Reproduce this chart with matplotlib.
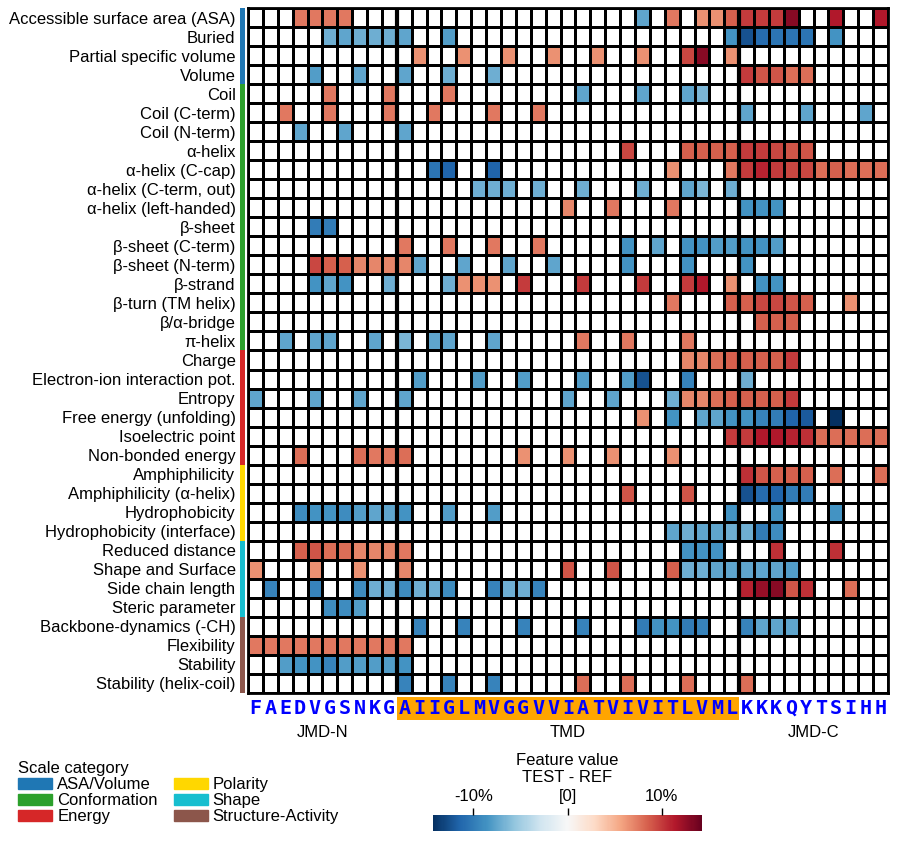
import numpy as np
import matplotlib
matplotlib.use("Agg")
import matplotlib.pyplot as plt
from matplotlib.patches import Patch, Rectangle
from matplotlib.transforms import blended_transform_factory
from matplotlib.cm import ScalarMappable
from matplotlib.colors import Normalize

plt.rcParams['font.family'] = ['Liberation Sans', 'DejaVu Sans']

scales = ["Accessible surface area (ASA)", "Buried", "Partial specific volume", "Volume",
          "Coil", "Coil (C-term)", "Coil (N-term)", "α-helix", "α-helix (C-cap)",
          "α-helix (C-term, out)", "α-helix (left-handed)", "β-sheet", "β-sheet (C-term)",
          "β-sheet (N-term)", "β-strand", "β-turn (TM helix)", "β/α-bridge", "π-helix",
          "Charge", "Electron-ion interaction pot.", "Entropy", "Free energy (unfolding)",
          "Isoelectric point", "Non-bonded energy",
          "Amphiphilicity", "Amphiphilicity (α-helix)", "Hydrophobicity", "Hydrophobicity (interface)",
          "Reduced distance", "Shape and Surface", "Side chain length", "Steric parameter",
          "Backbone-dynamics (-CH)", "Flexibility", "Stability", "Stability (helix-coil)"]

categories = ["ASA/Volume", "Conformation", "Energy", "Polarity", "Shape", "Structure-Activity"]
cat_colors = ["#1f77b4", "#2ca02c", "#d62728", "#ffd700", "#17becf", "#8c564b"]
cat_sizes = [4, 14, 6, 4, 4, 4]

jmd_n = "FAEDVGSNKG"
tmd = "AIIGLMVGGVVIATVIVITLVML"
jmd_c = "KKKQYTSIHH"

# (position, value in %) per scale, zero elsewhere
feat_values = [
    [(3, 7.5), (4, 7.5), (5, 7.5), (6, 7.5), (26, -7.5), (28, 7.5), (30, 6.5), (31, 6.5), (32, 8.5),
     (33, 10), (34, 10), (35, 10), (36, 13), (39, 11.5), (42, 11.5)],
    [(5, -7), (6, -7.5), (7, -7), (8, -7), (9, -7), (10, -7.5), (13, -8), (32, -8.5), (33, -12.5),
     (34, -11), (35, -10.5), (36, -10.5), (37, -10.5), (39, -8.5)],
    [(11, 6.5), (14, 6.5), (17, 6.5), (20, 6.5), (23, 6.5), (26, 6.5), (29, 9.5), (30, 13), (32, 6.5)],
    [(4, -8), (7, -7.5), (10, -7.5), (13, -7), (16, -7), (33, 10), (34, 9), (35, 9), (36, 8), (37, 8)],
    [(5, 7.5), (9, 7.5), (13, 7.5), (22, -7.5), (26, -7.5), (29, -7.5), (30, -6.5)],
    [(2, 7.5), (5, 7.5), (9, 7.5), (12, 7.5), (16, 7.5), (19, 7.5), (33, -7.5), (37, -7.5), (41, -7.5)],
    [(3, -7.5), (6, -7.5), (10, -7.5)],
    [(25, 9.5), (29, 8.5), (30, 8.5), (31, 8.5), (32, 8.5), (33, 10), (34, 10), (35, 9.5), (36, 9), (37, 9)],
    [(12, -10.5), (13, -11.5), (16, -11.5), (28, 6.5), (32, 7.5), (33, 10), (34, 11), (35, 10),
     (36, 9.5), (37, 9.5), (38, 8), (39, 8.5), (40, 8), (41, 8), (42, 8)],
    [(15, -7), (16, -7), (17, -7), (19, -7), (22, -7), (26, -7), (29, -7.5), (30, -6.5), (32, -7)],
    [(21, 7), (24, 7.5), (28, 7.5), (33, -8.5), (34, -8.5), (35, -8.5)],
    [(4, -10), (5, -10)],
    [(10, 7.5), (13, 7.5), (16, 7.5), (19, 7.5), (25, -8.5), (27, -7.5), (29, -8.5), (30, -8.5),
     (31, -8), (32, -8), (33, -8.5), (34, -8.5), (35, -8)],
    [(4, 9.5), (5, 8.5), (6, 8.5), (7, 7), (8, 7), (9, 7), (10, 7), (11, -7.5), (14, -7.5), (17, -7.5),
     (20, -7.5), (25, -8.5), (29, -8.5), (33, -8.5)],
    [(4, -8.5), (5, -7.5), (6, -8.5), (9, -7), (13, -7), (14, 6.5), (15, 6.5), (16, 6.5), (18, 10),
     (22, 10), (26, 10), (29, 10), (30, 11.5), (32, 6.5), (34, -8.5), (35, -8.5)],
    [(28, 7.5), (32, 8.5), (33, 8.5), (34, 9.5), (35, 9.5), (36, 9), (37, 8.5), (40, 6.5)],
    [(34, 8.5), (35, 8.5), (36, 8.5)],
    [(2, -7.5), (4, -7.5), (5, -7.5), (8, -7.5), (10, -6.5), (12, -7.5), (13, -7.5), (16, -7.5),
     (22, 7.5), (25, 7.5), (29, 7.5)],
    [(29, 7), (30, 7), (31, 8), (32, 8.5), (33, 8.5), (34, 8.5), (35, 8.5), (36, 10)],
    [(11, -8), (15, -8), (18, -8), (22, -8), (25, -8), (26, -12.5), (29, -9.5), (33, -7)],
    [(0, -7.5), (4, -7.5), (7, -7.5), (10, -7.5), (21, -7.5), (24, -7.5), (28, -7), (29, 7), (30, 7),
     (31, 8), (32, 8.5), (33, 8.5), (34, 8.5), (35, 8.5), (36, 10)],
    [(26, 6.5), (28, -8.5), (30, -7.5), (31, -7.5), (32, -8.5), (33, -8.5), (34, -9.5), (35, -10),
     (36, -11.5), (37, -12), (39, -14.3)],
    [(32, 10), (33, 10), (34, 11.5), (35, 11.5), (36, 11), (37, 10.5), (38, 8), (39, 8), (40, 8),
     (41, 8), (42, 8)],
    [(3, 8), (7, 8), (8, 7.5), (9, 7.5), (10, 8), (18, 6.5), (21, 6.5), (24, 6.5), (28, 6.5)],
    [(33, 10.5), (34, 9), (35, 8.5), (36, 8.5), (37, 8.5), (39, 8), (42, 8)],
    [(25, 9), (29, 9), (33, -12.5), (34, -11), (35, -11.5), (36, -10), (37, -10)],
    [(3, -9), (4, -8.5), (5, -8.5), (6, -9), (7, -8), (8, -7.5), (9, -7.5), (10, -8.5), (13, -8),
     (16, -8), (32, -8.5), (35, -8.5), (39, -8.5)],
    [(28, -7.5), (29, -7), (30, -7.5), (31, -7.5), (32, -7), (33, -7), (34, -10), (35, -9)],
    [(3, 8.5), (4, 9), (5, 8), (6, 8), (7, 7), (8, 7), (9, 7), (10, 7.5), (29, -8.5), (30, -8.5),
     (31, -8.5), (35, 10.5), (39, 10.5)],
    [(0, 6.5), (4, 6.5), (7, 6.5), (10, 7), (21, 9), (24, 9), (28, 8.5), (29, -7), (30, -7),
     (31, -7.5), (32, -7.5), (33, -7.5), (34, -7.5), (35, -7.5), (36, -8)],
    [(1, -9.5), (4, -9.5), (7, -9), (8, -7), (9, -7), (10, -9), (11, -7), (12, -7), (13, -9),
     (16, -9.5), (17, -7), (18, -7), (19, -9.5), (33, 11), (34, 12.5), (35, 13), (36, 9), (37, 10.5),
     (40, 8)],
    [(5, -9), (6, -9), (7, -8)],
    [(11, -9.5), (14, -9.5), (18, -9.5), (22, -9.5), (26, -10), (27, -8.5), (28, -8.5), (29, -10),
     (30, -9.5), (33, -9.5), (34, -7.5), (35, -7.5), (36, -7.5)],
    [(0, 7.5), (1, 7.5), (2, 7.5), (3, 7.5), (4, 7.5), (5, 7.5), (6, 7.5), (7, 7.5), (8, 7.5),
     (9, 7.5), (10, 7.5)],
    [(2, -8), (3, -8.5), (4, -8.5), (5, -9.5), (6, -8), (7, -8), (8, -8), (9, -8), (10, -8.5)],
    [(10, -9.5), (13, -9.5), (16, -9.5), (22, 8), (25, 8), (29, 8), (33, 8)],
]

seq = jmd_n + tmd + jmd_c
n_rows, n_cols = len(scales), len(seq)
mat = np.zeros((n_rows, n_cols))
for r, cells in enumerate(feat_values):
    for c, v in cells:
        mat[r, c] = v
vmax = 14.3
fs = 12

fig = plt.figure(figsize=(8.97, 8.41), dpi=100)
W, H = 897, 841
ax = fig.add_axes([248 / W, 1 - 693 / H, 640 / W, 685 / H])

cmap = plt.get_cmap('RdBu_r').copy()
cmap.set_bad('white')
data = np.ma.masked_where(mat == 0, mat)
ax.pcolormesh(np.arange(n_cols + 1), np.arange(n_rows + 1), data, cmap=cmap,
              vmin=-vmax, vmax=vmax, edgecolors='black', linewidth=2)
ax.set_xlim(0, n_cols)
ax.set_ylim(n_rows, 0)
n1, n2 = len(jmd_n), len(jmd_n) + len(tmd)
ax.axvline(n1, color='black', lw=3)
ax.axvline(n2, color='black', lw=3)
for s in ax.spines.values():
    s.set_linewidth(2)
ax.set_xticks([])
ax.set_yticks(np.arange(n_rows) + 0.5)
ax.set_yticklabels(scales, fontsize=fs)
ax.tick_params(axis='y', length=0, pad=9)

# category stripe
sax = fig.add_axes([240 / W, 1 - 693 / H, 5 / W, 685 / H])
start = 0
for col, size in zip(cat_colors, cat_sizes):
    sax.axhspan(start, start + size, color=col, lw=0)
    start += size
sax.set_ylim(n_rows, 0)
sax.axis('off')

# sequence below the grid
tr = blended_transform_factory(ax.transData, ax.transAxes)
ax.add_patch(Rectangle((n1, -0.0394), n2 - n1, 0.0336, transform=tr,
                       color='#ffa500', clip_on=False, lw=0))
for i, aa in enumerate(seq):
    ax.text(i + 0.5, -0.0225, aa, transform=tr, ha='center', va='center',
            family='DejaVu Sans Mono', weight='bold', color='#0000ff', fontsize=14.5)
ax.text(n1 / 2, -0.057, "JMD-N", transform=tr, ha='center', va='center', fontsize=fs)
ax.text((n1 + n2) / 2, -0.057, "TMD", transform=tr, ha='center', va='center', fontsize=fs)
ax.text((n2 + n_cols) / 2, -0.057, "JMD-C", transform=tr, ha='center', va='center', fontsize=fs)

# colorbar
cax = fig.add_axes([433 / W, 1 - 831 / H, 269 / W, 16 / H])
sm = ScalarMappable(norm=Normalize(-vmax, vmax), cmap='RdBu_r')
cb = fig.colorbar(sm, cax=cax, orientation='horizontal', ticks=[-10, 0, 10])
cb.outline.set_visible(False)
cax.xaxis.set_ticks_position('top')
cax.xaxis.set_label_position('top')
cax.set_xticklabels(['-10%', '[0]', '10%'], fontsize=fs)
cax.tick_params(axis='x', length=5, width=1, pad=3)
cb.set_label('Feature value\nTEST - REF', fontsize=fs, labelpad=5, linespacing=1.2)

# legend
handles = [Patch(color=c, label=n) for c, n in zip(cat_colors, categories)]
fig.legend(handles=handles, loc='upper left', bbox_to_anchor=(18 / W, 1 - 761 / H), ncol=2,
           frameon=False, title='Scale category', fontsize=fs, title_fontsize=fs,
           handlelength=2.05, handleheight=0.6, labelspacing=0.07, columnspacing=0.95,
           handletextpad=0.3, alignment='left', borderpad=0, borderaxespad=0)

fig.savefig('out.png', dpi=100)
